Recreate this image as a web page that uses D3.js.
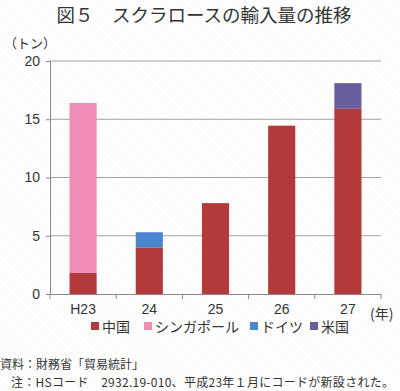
<!DOCTYPE html>
<html>
<head>
<meta charset="utf-8">
<script src="https://cdn.jsdelivr.net/npm/d3@7"></script>
<style>
  body { margin: 0; background: #fff; }
  svg { display: block; font-family: "Noto Sans CJK JP", sans-serif; }
</style>
</head>
<body>
<div id="chart"></div>
<script>
// データ（単位：トン）
const years = ["H23", "24", "25", "26", "27"];
const seriesNames = ["中国", "シンガポール", "ドイツ", "米国"];
const china = [1.8, 4.0, 7.8, 14.45, 15.9];
const singapore = [14.6, 0, 0, 0, 0];
const germany = [0, 1.3, 0, 0, 0];
const usa = [0, 0, 0, 0, 2.2];
const yTicks = [0, 5, 10, 15, 20];
const colors = ["#b23a3b", "#f08db6", "#4a85d0", "#6b5e9f"];

const width = 400, height = 391;
const margin = { top: 61, right: 19, bottom: 97, left: 50 };

const svg = d3.select("#chart").append("svg")
    .attr("width", width)
    .attr("height", height);

// 背景の斜線
const defs = svg.append("defs");
const pat = defs.append("pattern")
    .attr("id", "hatch")
    .attr("width", 4).attr("height", 4)
    .attr("patternUnits", "userSpaceOnUse")
    .attr("patternTransform", "rotate(-45)");
pat.append("rect").attr("width", 4).attr("height", 4).attr("fill", "#fff");
pat.append("line").attr("x1", 0).attr("y1", 0).attr("x2", 0).attr("y2", 4)
    .attr("stroke", "#f3f3f3").attr("stroke-width", 1);
svg.append("rect").attr("width", width).attr("height", height).attr("fill", "url(#hatch)");

// タイトル
svg.append("text")
    .attr("x", 204).attr("y", 22)
    .attr("text-anchor", "middle")
    .attr("font-size", 18.5)
    .attr("fill", "#333")
    .text("図５　スクラロースの輸入量の推移");

const innerW = width - margin.left - margin.right;
const innerH = height - margin.top - margin.bottom;

const g = svg.append("g")
    .attr("transform", `translate(${margin.left},${margin.top})`);

const x = d3.scaleBand().domain(years).range([0, innerW]).paddingInner(0.59).paddingOuter(0.295);
const y = d3.scaleLinear().domain([0, 20]).range([innerH, 0]);

// グリッド線
g.selectAll(".grid")
    .data(yTicks.slice(1))
    .enter().append("line")
    .attr("x1", 0).attr("x2", innerW)
    .attr("y1", d => y(d)).attr("y2", d => y(d))
    .attr("stroke", "#a0a0a0").attr("stroke-width", 1);

// 積み上げデータ
const rows = years.map((yr, i) => ({
    year: yr, 中国: china[i], シンガポール: singapore[i], ドイツ: germany[i], 米国: usa[i]
}));
const stack = d3.stack().keys(seriesNames)(rows);

g.selectAll(".series")
    .data(stack)
    .enter().append("g")
    .attr("fill", (d, i) => colors[i])
    .selectAll("rect")
    .data(d => d)
    .enter().append("rect")
    .attr("x", d => x(d.data.year))
    .attr("width", x.bandwidth())
    .attr("y", d => y(d[1]))
    .attr("height", d => y(d[0]) - y(d[1]));

// Y軸
const yAxis = g.append("g")
    .call(d3.axisLeft(y).tickValues(yTicks).tickSize(4).tickPadding(6));
yAxis.select(".domain").attr("stroke", "#888");
yAxis.selectAll(".tick line").attr("stroke", "#888");
yAxis.selectAll("text").attr("font-size", 14).attr("fill", "#333")
    .attr("font-family", "Liberation Sans, Arial, sans-serif");

// X軸
const xAxis = g.append("g")
    .attr("transform", `translate(0,${innerH})`)
    .call(d3.axisBottom(x).tickSize(0).tickPadding(10));
xAxis.select(".domain").attr("stroke", "#888");
xAxis.selectAll("text").attr("font-size", 14).attr("fill", "#333")
    .attr("font-family", "Liberation Sans, Arial, sans-serif");
// カテゴリ境界の目盛り
const step = x.step();
g.selectAll(".xtick")
    .data(d3.range(years.length + 1))
    .enter().append("line")
    .attr("x1", d => d * step).attr("x2", d => d * step)
    .attr("y1", innerH).attr("y2", innerH + 5)
    .attr("stroke", "#888");

// 単位
svg.append("text")
    .attr("x", 4).attr("y", 48)
    .attr("font-size", 13).attr("fill", "#333")
    .text("（トン）");
svg.append("text")
    .attr("x", 370).attr("y", 319)
    .attr("font-size", 14).attr("fill", "#333")
    .text("(年)");

// 凡例
const legend = svg.append("g").attr("transform", "translate(91,332)");
const legendX = [0, 53, 159, 219];
seriesNames.forEach((name, i) => {
    const lg = legend.append("g").attr("transform", `translate(${legendX[i]},0)`);
    lg.append("rect").attr("x", 0).attr("y", -10).attr("width", 8).attr("height", 8).attr("fill", colors[i]);
    lg.append("text").attr("x", 11).attr("y", 0)
        .attr("font-size", 14).attr("fill", "#333").text(name);
});

// 注記
svg.append("text")
    .attr("x", 0).attr("y", 369)
    .attr("font-size", 12).attr("fill", "#333")
    .text("資料：財務省「貿易統計」");
svg.append("text")
    .attr("x", 11).attr("y", 387)
    .attr("font-size", 12).attr("fill", "#333")
    .attr("textLength", 383).attr("lengthAdjust", "spacing")
    .text("注：HSコード　2932.19-010、平成23年１月にコードが新設された。");
</script>
</body>
</html>
